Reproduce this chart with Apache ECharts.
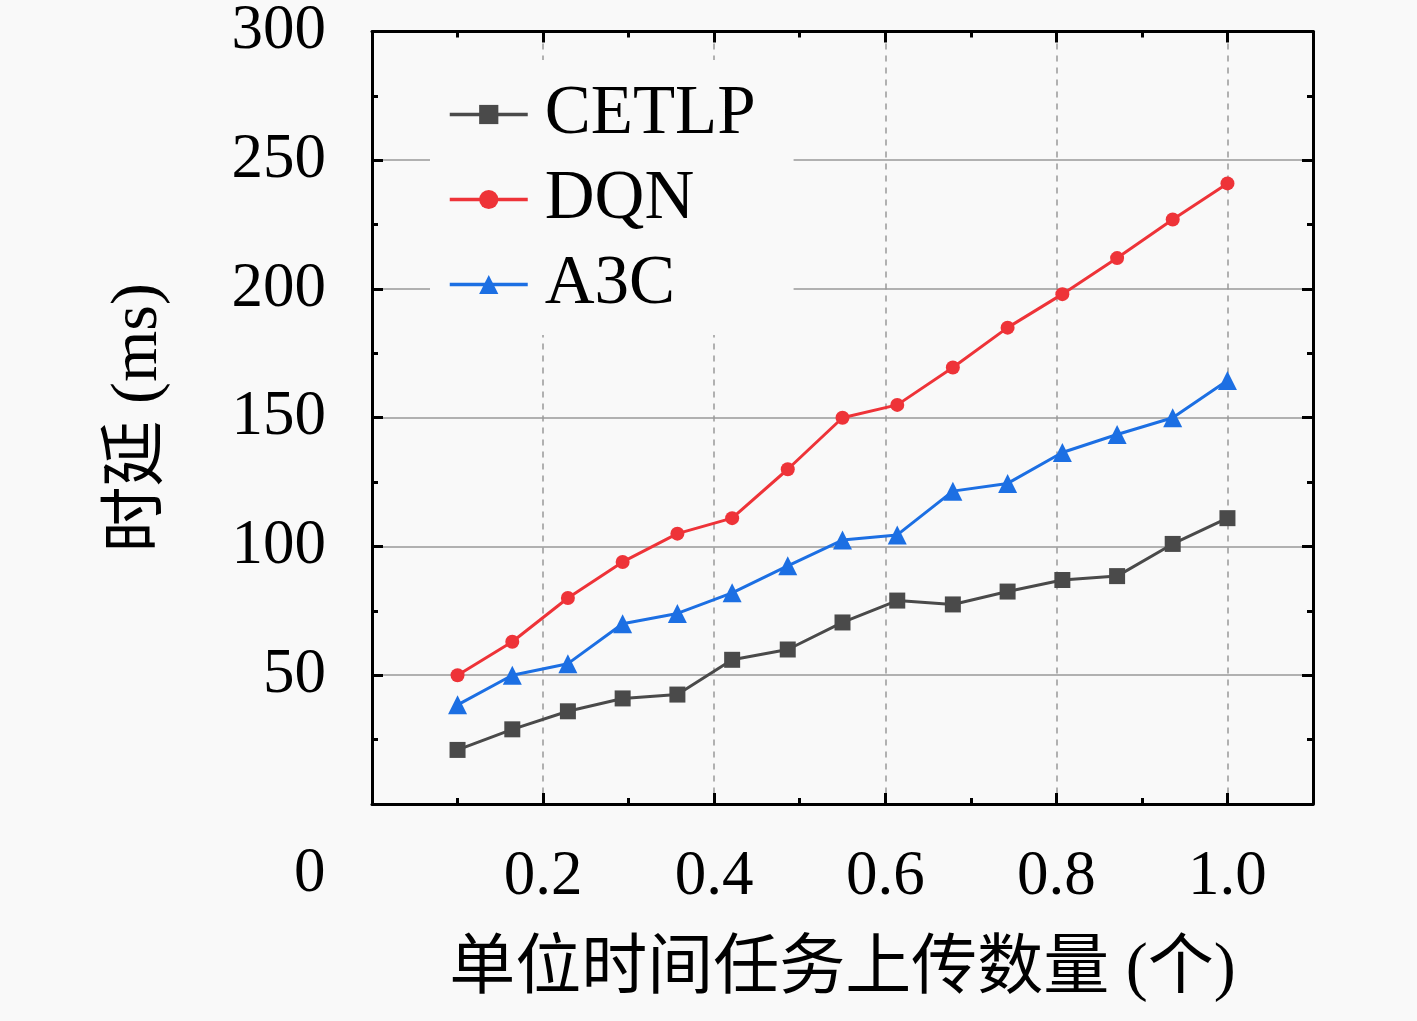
<!DOCTYPE html>
<html>
<head>
<meta charset="utf-8">
<script src="https://cdn.jsdelivr.net/npm/echarts@6/dist/echarts.min.js"></script>
<style>
  html, body { margin: 0; padding: 0; background: #f9f9f9; }
  #main { width: 1417px; height: 1021px; }
</style>
</head>
<body>
<div id="main"></div>
<script>
  // x: 单位时间任务上传数量, y: 时延 (ms)
  var xValues = [0.1, 0.164, 0.229, 0.293, 0.357, 0.421, 0.486, 0.55, 0.614, 0.679, 0.743, 0.807, 0.871, 0.936, 1.0];
  var cetlp = [21, 29, 36, 41, 42.5, 56, 60, 70.5, 79, 77.5, 82.5, 87, 88.5, 101, 111];
  var dqn   = [50, 63, 80, 94, 105, 111, 130, 150, 155, 169.5, 185, 198, 212, 227, 241];
  var a3c   = [38.5, 50, 54.5, 70, 74, 82, 92.5, 102.5, 104.5, 121.5, 124.5, 136.5, 143.5, 150, 164.5];
  var seriesNames = ['CETLP', 'DQN', 'A3C'];
  var serif = '"Liberation Serif", "Noto Sans CJK SC", serif';

  function pairs(ys) {
    return xValues.map(function(x, i) { return [x, ys[i]]; });
  }

  var tickStyle = { show: true, inside: true, length: 11, lineStyle: { color: '#000', width: 3 } };
  var minorStyle = { show: true, splitNumber: 2, length: 6, lineStyle: { color: '#000', width: 3 } };
  var lineStyleAxis = { show: true, onZero: false, lineStyle: { color: '#000', width: 3 } };

  var chart = echarts.init(document.getElementById('main'));
  chart.setOption({
    backgroundColor: '#f9f9f9',
    animation: false,
    grid: { left: 372, right: 104, top: 30, bottom: 217 },
    legend: {
      data: seriesNames,
      orient: 'vertical',
      left: 430,
      top: 60,
      padding: [20, 38, 16, 18],
      itemGap: 16,
      itemWidth: 78,
      itemHeight: 24,
      lineStyle: { width: 3.5 },
      backgroundColor: '#f9f9f9',
      textStyle: { fontFamily: serif, fontSize: 69, color: '#000', padding: [0, 0, 0, 12] }
    },
    xAxis: [{
      type: 'value',
      min: 0, max: 1.1, interval: 0.2,
      name: '单位时间任务上传数量 (个)',
      nameLocation: 'middle',
      nameGap: 134,
      nameTextStyle: { fontFamily: serif, fontSize: 66, color: '#000' },
      axisLine: lineStyleAxis,
      axisTick: tickStyle,
      minorTick: minorStyle,
      axisLabel: {
        margin: 42, fontFamily: serif, fontSize: 63, color: '#000',
        formatter: function(v) { return (v === 0 || v > 1.05) ? '' : v.toFixed(1); }
      },
      splitLine: { show: true, lineStyle: { color: '#999', width: 1.5, type: [6, 6] } }
    }, {
      type: 'value',
      position: 'top',
      min: 0, max: 1.1, interval: 0.2,
      axisLine: lineStyleAxis,
      axisTick: tickStyle,
      minorTick: minorStyle,
      axisLabel: { show: false },
      splitLine: { show: false }
    }],
    yAxis: [{
      type: 'value',
      min: 0, max: 300, interval: 50,
      name: '时延 (ms)',
      nameLocation: 'middle',
      nameGap: 200,
      nameTextStyle: { fontFamily: serif, fontSize: 66, color: '#000' },
      axisLine: lineStyleAxis,
      axisTick: tickStyle,
      minorTick: minorStyle,
      axisLabel: {
        margin: 46, fontFamily: serif, fontSize: 63, color: '#000',
        formatter: function(v) { return v === 0 ? '' : String(v); }
      },
      splitLine: { show: true, lineStyle: { color: '#999', width: 1.5 } }
    }, {
      type: 'value',
      position: 'right',
      min: 0, max: 300, interval: 50,
      axisLine: lineStyleAxis,
      axisTick: tickStyle,
      minorTick: minorStyle,
      axisLabel: { show: false },
      splitLine: { show: false }
    }],
    graphic: [{
      type: 'text',
      left: 294, top: 843,
      style: { text: '0', font: '63px "Liberation Serif", serif', fill: '#000' }
    }],
    series: [{
      name: 'CETLP', type: 'line', data: pairs(cetlp),
      symbol: 'rect', symbolSize: 16,
      itemStyle: { color: '#4a4a4a' },
      lineStyle: { color: '#4a4a4a', width: 3 }
    }, {
      name: 'DQN', type: 'line', data: pairs(dqn),
      symbol: 'circle', symbolSize: 14,
      itemStyle: { color: '#ee3338' },
      lineStyle: { color: '#ee3338', width: 3 }
    }, {
      name: 'A3C', type: 'line', data: pairs(a3c),
      symbol: 'triangle', symbolSize: 19,
      itemStyle: { color: '#1c6fe3' },
      lineStyle: { color: '#1c6fe3', width: 3 }
    }]
  });
</script>
</body>
</html>
